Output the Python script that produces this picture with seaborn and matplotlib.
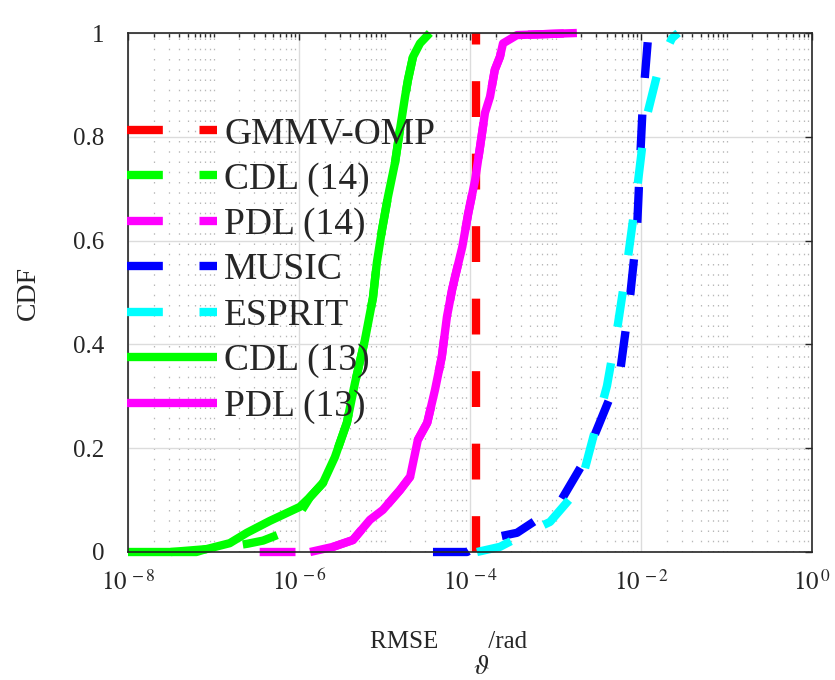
import numpy as np
import matplotlib
matplotlib.use("Agg")
import matplotlib.pyplot as plt
import matplotlib.ticker as mticker
import seaborn as sns

# values (x as log10 of RMSE, y as CDF level)
gmmv_log = [-3.93, -3.93]
gmmv_cdf = [0.0, 1.0]

cdl14_log = [-7.5, -6.9, -6.6, -6.42, -6.14, -5.97, -5.87, -5.72, -5.58, -5.44, -5.345,
             -5.23, -5.135, -5.09, -5.03, -4.96, -4.877, -4.82, -4.76, -4.725, -4.667,
             -4.585, -4.47]
cdl14_cdf = [0.0, 0.008, 0.016, 0.022, 0.04, 0.08, 0.106, 0.133, 0.183, 0.249, 0.326,
             0.408, 0.49, 0.557, 0.62, 0.684, 0.75, 0.813, 0.877, 0.91, 0.954, 0.98, 1.0]

pdl14_log = [-6.46, -5.9, -5.60, -5.37, -5.17, -5.02, -4.82, -4.70, -4.61, -4.50, -4.41,
             -4.33, -4.27, -4.21, -4.175, -4.09, -4.02, -3.94, -3.883, -3.825, -3.766,
             -3.71, -3.65, -3.614, -3.45, -2.75]
pdl14_cdf = [0.0, 0.0, 0.01, 0.023, 0.062, 0.081, 0.119, 0.145, 0.216, 0.249, 0.312,
             0.376, 0.453, 0.505, 0.53, 0.588, 0.653, 0.717, 0.78, 0.846, 0.877, 0.929,
             0.954, 0.98, 0.996, 1.0]

music_log = [-4.433, -4.035, -3.94, -3.684, -3.45, -3.10, -2.947, -2.678, -2.444, -2.246,
             -2.129, -2.047, -2.012, -1.977, -1.918, -1.895]
music_cdf = [0.0, 0.0, 0.01, 0.029, 0.037, 0.075, 0.096, 0.171, 0.265, 0.345, 0.49,
             0.62, 0.75, 0.87, 0.99, 1.0]

esprit_log = [-3.918, -3.649, -3.333, -3.064, -2.865, -2.713, -2.561, -2.398, -2.269,
              -2.152, -2.047, -1.953, -1.778, -1.637, -1.567]
esprit_cdf = [0.0, 0.01, 0.037, 0.058, 0.096, 0.125, 0.22, 0.32, 0.44, 0.568, 0.697,
              0.826, 0.942, 0.99, 1.0]

cdl13_log = [-8.0, -7.2, -7.12, -6.81, -6.61, -6.34, -5.99, -5.87, -5.72, -5.58, -5.44,
             -5.345, -5.23, -5.135, -5.09, -5.03, -4.96, -4.877, -4.82, -4.76, -4.725,
             -4.667, -4.585, -4.47]
cdl13_cdf = [0.0, 0.0, 0.004, 0.017, 0.037, 0.06, 0.087, 0.106, 0.133, 0.183, 0.249,
             0.326, 0.408, 0.49, 0.557, 0.62, 0.684, 0.75, 0.813, 0.877, 0.91, 0.954,
             0.98, 1.0]

pdl13_log = [-5.87, -5.60, -5.37, -5.17, -5.02, -4.82, -4.70, -4.61, -4.50, -4.41, -4.33,
             -4.27, -4.21, -4.175, -4.09, -4.02, -3.94, -3.883, -3.825, -3.766, -3.71,
             -3.65, -3.614, -3.45, -2.75]
pdl13_cdf = [0.0, 0.01, 0.023, 0.062, 0.081, 0.119, 0.145, 0.216, 0.249, 0.312, 0.376,
             0.453, 0.505, 0.53, 0.588, 0.653, 0.717, 0.78, 0.846, 0.877, 0.929, 0.954,
             0.98, 0.996, 1.0]

x_ticks = [1e-8, 1e-6, 1e-4, 1e-2, 1e0]
x_tick_labels = [r"$10^{\,-8}$", r"$10^{\,-6}$", r"$10^{\,-4}$", r"$10^{\,-2}$", r"$10^{\,0}$"]
y_ticks = [0, 0.2, 0.4, 0.6, 0.8, 1]
y_tick_labels = ["0", "0.2", "0.4", "0.6", "0.8", "1"]

series = [
  ("GMMV-OMP", gmmv_log, gmmv_cdf, (1, 0, 0), "dash"),
  ("CDL (14)", cdl14_log, cdl14_cdf, (0, 1, 0), "dash"),
  ("PDL (14)", pdl14_log, pdl14_cdf, (1, 0, 1), "dash"),
  ("MUSIC", music_log, music_cdf, (0, 0, 1), "dash"),
  ("ESPRIT", esprit_log, esprit_cdf, (0, 1, 1), "dash"),
  ("CDL (13)", cdl13_log, cdl13_cdf, (0, 1, 0), "solid"),
  ("PDL (13)", pdl13_log, pdl13_cdf, (1, 0, 1), "solid"),
]

sns.set_theme(style="white")
plt.rcParams["font.family"] = ["Liberation Serif", "DejaVu Serif"]
plt.rcParams["mathtext.fontset"] = "stix"

fig = plt.figure(figsize=(8.35, 6.8), dpi=100)
ax = fig.add_axes([128 / 835, 1 - 552 / 680, 684 / 835, 519 / 680])

lw = 6
for name, xs, ys, color, kind in series:
  ls = (0, (4.3, 4.4)) if kind == "dash" else "-"
  sns.lineplot(x=10 ** np.array(xs), y=ys, sort=False, estimator=None, ax=ax,
               color=color, linewidth=lw, linestyle=ls, label=name, clip_on=False,
               solid_capstyle="butt")

ax.set_xscale("log")
ax.set_xlim(1e-8, 1e0)
ax.set_ylim(0, 1)

ax.xaxis.set_major_locator(mticker.FixedLocator(x_ticks))
ax.set_xticklabels(x_tick_labels)
ax.xaxis.set_minor_locator(mticker.LogLocator(base=10, subs=np.arange(1, 10), numticks=50))
ax.xaxis.set_minor_formatter(mticker.NullFormatter())
ax.set_yticks(y_ticks)
ax.set_yticklabels(y_tick_labels)

ax.grid(True, which="major", color="#dcdcdc", linewidth=1.0, linestyle="-")
ax.grid(True, which="minor", axis="x", color="#b8b8b8", linewidth=0.9, linestyle=(0, (1.2, 7)))
ax.set_axisbelow(True)

for sp in ax.spines.values():
  sp.set_color("#262626")
  sp.set_linewidth(1.2)

ax.tick_params(axis="both", which="both", direction="in", top=True, right=True, colors="#262626")
ax.tick_params(axis="both", which="major", length=5, width=1)
ax.tick_params(axis="x", which="minor", length=3, width=1)
ax.tick_params(axis="y", which="major", labelsize=18, pad=17, labelcolor="#262626")
ax.tick_params(axis="x", which="major", labelsize=18, pad=13, labelcolor="#262626")

ax.set_ylabel("CDF", fontsize=20, color="#262626")
ax.yaxis.set_label_coords(-0.127, 0.5)
ax.set_xlabel("RMSE        /rad", fontsize=18, color="#262626")
ax.xaxis.set_label_coords(0.468, -0.152)
fig.text(481 / 835, 1 - 668 / 680, r"$\vartheta$", fontsize=20, ha="center", va="center",
         color="#262626")

leg = ax.legend(loc="center left", bbox_to_anchor=(-0.002, 0.543), frameon=False,
                fontsize=27, handlelength=2.4, handletextpad=0.2, labelspacing=0.29,
                borderpad=0, borderaxespad=0)
for line in leg.get_lines():
  line.set_linewidth(lw)

fig.savefig("out.png", dpi=100)
